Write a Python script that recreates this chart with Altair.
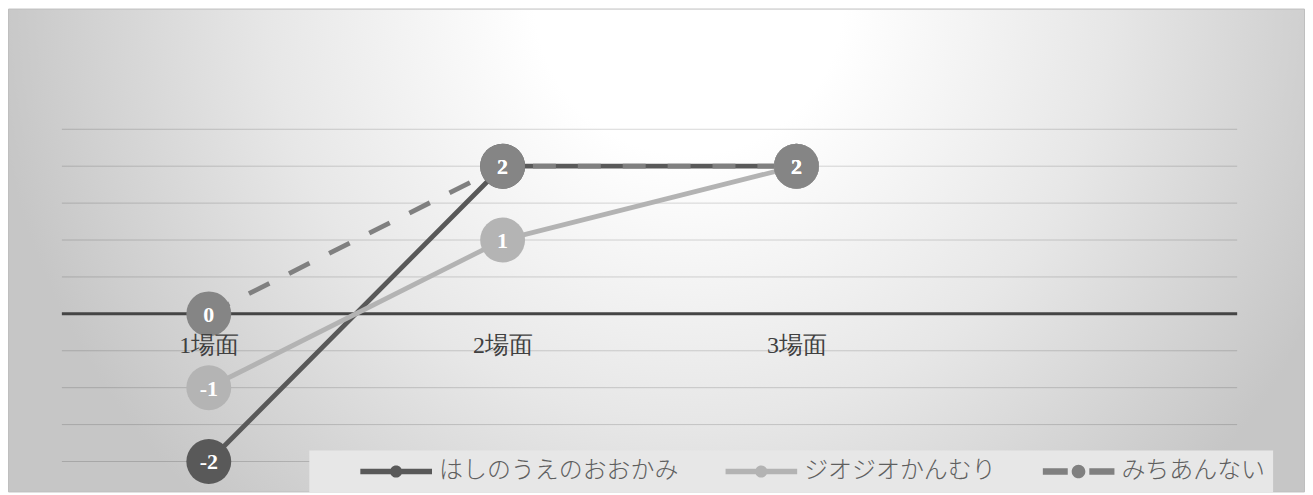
import altair as alt
import pandas as pd

# ---- data -------------------------------------------------------------
categories = ["1場面", "2場面", "3場面", " "]
series = ["はしのうえのおおかみ", "ジオジオかんむり", "みちあんない"]
values_hashi = [-2, 2, 2]
values_jio = [-1, 1, 2]
values_michi = [0, 2, 2]
gridline_values = [-2, -1.5, -1, -0.5, 0, 0.5, 1, 1.5, 2, 2.5]

# ---- styles -----------------------------------------------------------
line_colors = ["#595959", "#b3b3b3", "#808080"]
marker_colors = ["#595959", "#b4b4b4", "#858585"]
legend_paths = [
    "M-1,-0.075H1V0.075H-1Z M0.17,0A0.17,0.17,0,1,1,-0.17,0A0.17,0.17,0,1,1,0.17,0Z",
    "M-1,-0.075H1V0.075H-1Z M0.17,0A0.17,0.17,0,1,1,-0.17,0A0.17,0.17,0,1,1,0.17,0Z",
    "M-1,-0.09H-0.3V0.09H-1Z M0.3,-0.09H1V0.09H0.3Z M0.19,0A0.19,0.19,0,1,1,-0.19,0A0.19,0.19,0,1,1,0.19,0Z",
]

rows = []
for s, vals in zip(series, [values_hashi, values_jio, values_michi]):
    for c, v in zip(categories[:3], vals):
        rows.append({"series": s, "scene": c, "value": v, "label": str(v)})
df = pd.DataFrame(rows)

x_scale = alt.Scale(type="point", domain=categories, padding=0.5)
y_scale = alt.Scale(domain=[-2, 2.5], nice=False, zero=False)

x_axis = alt.Axis(
    values=categories[:3], title=None, domain=False, ticks=False, tickSize=0,
    grid=False, labelAngle=0, labelFont="Liberation Serif", labelFontSize=24,
    labelColor="#404040", labelPadding=32, labelBaseline="middle",
    offset=-148, zindex=1,
)

X = alt.X("scene:N", scale=x_scale, sort=categories, axis=x_axis)
Y = alt.Y("value:Q", scale=y_scale, axis=None)

# ---- background (decoration) -----------------------------------------
gradient = {
    "gradient": "radial",
    "x1": 0.525, "y1": 0.307, "r1": 0,
    "x2": 0.525, "y2": 0.307, "r2": 0.54,
    "stops": [
        {"offset": 0, "color": "#ffffff"},
        {"offset": 0.22, "color": "#ffffff"},
        {"offset": 0.6, "color": "#e7e7e7"},
        {"offset": 1, "color": "#c6c6c6"},
    ],
}
bg = alt.Chart(alt.Data(values=[{}])).mark_rect(
    fill=gradient, stroke="#bfbfbf", strokeWidth=1
).encode(
    x=alt.value(-53.5), x2=alt.value(1245.5),
    y=alt.value(-120.5), y2=alt.value(363.5),
)

grid = alt.Chart(pd.DataFrame({"g": gridline_values})).mark_rule(
    color="#000000", opacity=0.16, strokeWidth=1
).encode(y=alt.Y("g:Q", scale=y_scale, axis=None))

zero = alt.Chart(pd.DataFrame({"g": [0]})).mark_rule(
    color="#454545", strokeWidth=3
).encode(y=alt.Y("g:Q", scale=y_scale, axis=None))

layers = [bg, grid, zero]

for s, col, dash in zip(series, line_colors, [None, None, [23, 22]]):
    kw = dict(color=col, strokeWidth=4.8, strokeCap="butt", strokeJoin="round")
    if dash:
        kw["strokeDash"] = dash
    layers.append(
        alt.Chart(df).transform_filter(alt.datum.series == s).mark_line(**kw).encode(x=X, y=Y)
    )

for s, col in zip(series, marker_colors):
    layers.append(
        alt.Chart(df).transform_filter(alt.datum.series == s)
        .mark_circle(size=2025, opacity=1, color=col)
        .encode(x=X, y=Y)
    )

labels = alt.Chart(df).mark_text(
    color="white", font="Liberation Serif", fontWeight="bold", fontSize=22,
    baseline="middle", align="center", dy=1,
).encode(x=X, y=Y, text="label:N")
layers.append(labels)

legend = alt.Legend(
    title="\u3000", titleOrient="left", titleFontSize=23, titleFont="Noto Sans CJK JP",
    titlePadding=43,
    orient="none", direction="horizontal", legendX=248, legendY=322,
    symbolSize=5184, symbolStrokeWidth=0, symbolOpacity=1,
    labelFont="Noto Sans CJK JP", labelFontSize=24, labelFontWeight=300,
    labelColor="#5f5f5f",
    labelOffset=7, columnPadding=47, clipHeight=26, padding=8,
    fillColor="#e7e7e7", labelLimit=400,
)
legend_layer = alt.Chart(df).transform_filter("false").mark_point(
    filled=True, opacity=1, size=5184, strokeWidth=0
).encode(
    color=alt.Color("series:N", scale=alt.Scale(domain=series, range=line_colors), legend=legend),
    shape=alt.Shape("series:N", scale=alt.Scale(domain=series, range=legend_paths), legend=legend),
)
layers.append(legend_layer)

chart = alt.layer(*layers).properties(
    width=1178, height=333,
    autosize=alt.AutoSizeParams(type="none"),
    padding={"left": 54, "top": 121, "right": 68, "bottom": 31},
).configure_view(stroke=None)

chart.save("out.html", embed_options={"renderer": "svg", "actions": False})
